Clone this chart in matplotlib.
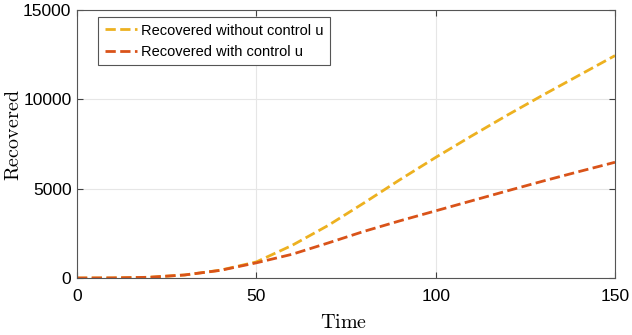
import matplotlib.pyplot as plt

# data
t = [0, 10, 20, 30, 40, 50, 60, 70, 80, 90, 100, 110, 120, 130, 140, 150]
rec_no_ctrl = [0, 5, 40, 170, 440, 900, 1830, 2940, 4200, 5500, 6750,
               7950, 9120, 10250, 11350, 12450]
rec_ctrl = [0, 5, 40, 170, 430, 850, 1330, 1960, 2610, 3200, 3760,
            4320, 4880, 5430, 5960, 6480]

plt.rcParams['font.family'] = ['Liberation Sans', 'DejaVu Sans']
plt.rcParams['mathtext.fontset'] = 'cm'

fig = plt.figure(figsize=(6.32, 3.35), dpi=100)
ax = fig.add_axes([0.1218, 0.1701, 0.8513, 0.7999])

ax.plot(t, rec_no_ctrl, '--', color='#EDB120', lw=2, label='Recovered without control u')
ax.plot(t, rec_ctrl, '--', color='#D95319', lw=2, label='Recovered with control u')

ax.set_xlim(0, 150)
ax.set_ylim(0, 15000)
ax.set_xticks([0, 50, 100, 150])
ax.set_yticks([0, 5000, 10000, 15000])
ax.grid(True, color='#e6e6e6', lw=0.8)
ax.tick_params(direction='in', top=True, right=True, labelsize=12.5,
               color='#404040', length=4)
ax.tick_params(axis='x', pad=8)
ax.tick_params(axis='y', pad=4)
for s in ax.spines.values():
    s.set_color('#555555')
    s.set_linewidth(0.8)

ax.set_xlabel(r'$\mathrm{Time}$', fontsize=14.5)
ax.set_ylabel(r'$\mathrm{Recovered}$', fontsize=14.5)
ax.xaxis.set_label_coords(0.496, -0.13)
ax.yaxis.set_label_coords(-0.1, 0.535)

leg = ax.legend(loc='upper left', bbox_to_anchor=(0.039, 0.974), borderaxespad=0,
                fontsize=10.5, fancybox=False, framealpha=1, edgecolor='#555555',
                handlelength=2.2, handletextpad=0.3, borderpad=0.45, labelspacing=0.5)
leg.get_frame().set_linewidth(0.8)

plt.savefig('out.png')
